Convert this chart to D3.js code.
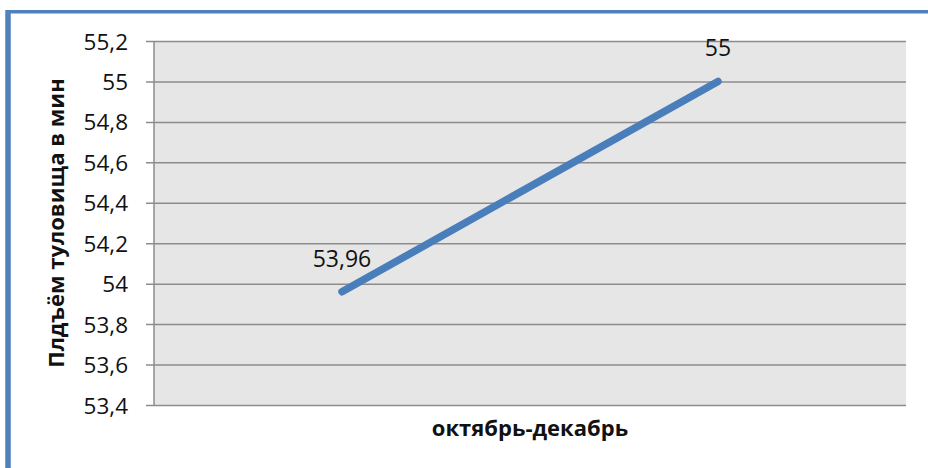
<!DOCTYPE html>
<html>
<head>
<meta charset="utf-8">
<script src="https://cdn.jsdelivr.net/npm/d3@7/dist/d3.min.js"></script>
<style>
  html, body { margin: 0; padding: 0; background: #fff; }
  svg { display: block; }
</style>
</head>
<body>
<svg id="chart" width="928" height="468"></svg>
<script>
// Periods on the horizontal axis (two measurements)
const categories = ["октябрь", "декабрь"];
// Sit-ups per minute
const values = [53.96, 55];
const valueLabels = ["53,96", "55"];
// Y axis ticks
const yTicks = [53.4, 53.6, 53.8, 54, 54.2, 54.4, 54.6, 54.8, 55, 55.2];
const yTickLabels = ["53,4", "53,6", "53,8", "54", "54,2", "54,4", "54,6", "54,8", "55", "55,2"];
const xTitle = "октябрь-декабрь";
const yTitle = "Плдъём туловища в мин";

const svg = d3.select("#chart");
const font = "'Open Sans', sans-serif";

// outer frame
svg.append("line").attr("x1", 8).attr("x2", 928).attr("y1", 11.8).attr("y2", 11.8)
  .attr("stroke", "#4f81bd").attr("stroke-width", 3.5);
svg.append("line").attr("x1", 8).attr("x2", 8).attr("y1", 10).attr("y2", 468)
  .attr("stroke", "#4f81bd").attr("stroke-width", 5.5);

const plot = { left: 154, right: 906, top: 41, bottom: 405 };

const x = d3.scaleBand().domain(categories).range([plot.left, plot.right]);
const y = d3.scaleLinear().domain([53.4, 55.2]).range([plot.bottom, plot.top]);

// plot background
svg.append("rect")
  .attr("x", plot.left).attr("y", plot.top)
  .attr("width", plot.right - plot.left).attr("height", plot.bottom - plot.top)
  .attr("fill", "#e6e6e6");

// y axis with gridlines
const yAxis = d3.axisLeft(y)
  .tickValues(yTicks)
  .tickFormat((d, i) => yTickLabels[i])
  .tickSize(-(plot.right - plot.left))
  .tickPadding(0);

const gy = svg.append("g").attr("transform", `translate(${plot.left},0)`).call(yAxis);
gy.select(".domain").remove();
gy.selectAll(".tick line")
  .attr("x1", -8)
  .attr("stroke", "#8c8c8c").attr("stroke-width", 1.5);
gy.selectAll(".tick text")
  .attr("x", -26)
  .attr("dy", "0.36em")
  .attr("font-family", font).attr("font-size", 22.5).attr("fill", "#111");

// vertical axis line
svg.append("line")
  .attr("x1", plot.left).attr("x2", plot.left)
  .attr("y1", plot.top).attr("y2", plot.bottom)
  .attr("stroke", "#8c8c8c").attr("stroke-width", 1.5);

// series line
const pts = categories.map((c, i) => [x(c) + x.bandwidth() / 2, y(values[i])]);
svg.append("path")
  .attr("d", d3.line()(pts))
  .attr("fill", "none")
  .attr("stroke", "#4a7ebb")
  .attr("stroke-width", 7.5)
  .attr("stroke-linecap", "round");

// value labels
svg.selectAll(".vlabel").data(pts).join("text")
  .attr("class", "vlabel")
  .attr("x", d => d[0])
  .attr("y", d => d[1] - 25)
  .attr("text-anchor", "middle")
  .attr("font-family", font).attr("font-size", 23).attr("fill", "#111")
  .text((d, i) => valueLabels[i]);

// axis titles
svg.append("text")
  .attr("x", 530)
  .attr("y", 436)
  .attr("text-anchor", "middle")
  .attr("font-family", font).attr("font-weight", "bold").attr("font-size", 22)
  .attr("fill", "#111")
  .text(xTitle);

svg.append("text")
  .attr("transform", `translate(64,${(plot.top + plot.bottom) / 2}) rotate(-90)`)
  .attr("text-anchor", "middle")
  .attr("font-family", font).attr("font-weight", "bold").attr("font-size", 22)
  .attr("fill", "#111")
  .text(yTitle);
</script>
</body>
</html>
